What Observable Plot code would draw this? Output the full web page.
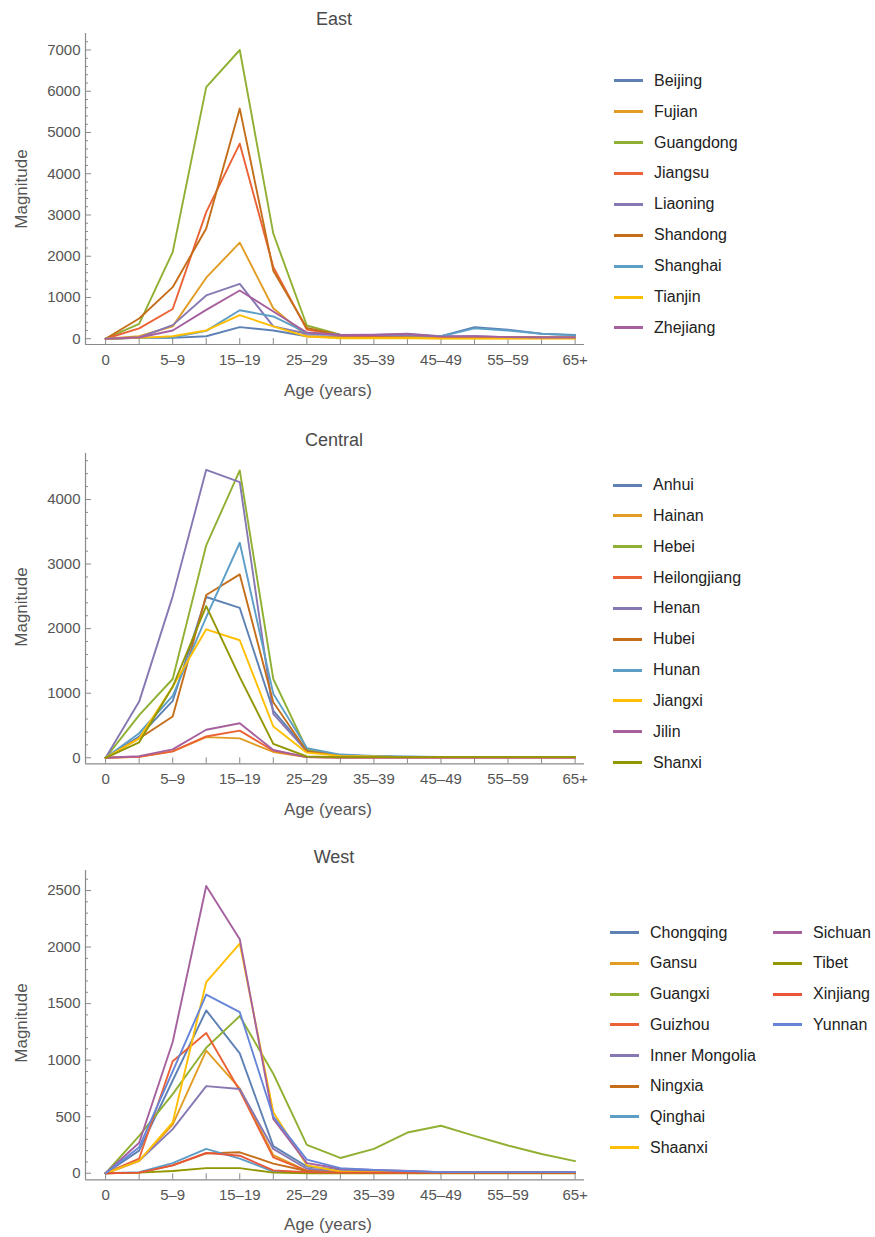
<!DOCTYPE html>
<html>
<head>
<meta charset="utf-8">
<script src="https://cdn.jsdelivr.net/npm/d3@7"></script>
<script src="https://cdn.jsdelivr.net/npm/@observablehq/plot@0.6"></script>
<style>
  html, body { margin: 0; padding: 0; background: #fff; }
  #root { position: relative; width: 875px; height: 1237px; overflow: hidden; font-family: "Liberation Sans", Arial, sans-serif; }
  .panel { position: absolute; left: 0; }
  .title { position: absolute; font-size: 18px; color: #4a4a4a; transform: translate(-50%, -50%); white-space: nowrap; }
  .xlab { position: absolute; font-size: 17px; color: #555; transform: translate(-50%, -50%); white-space: nowrap; }
  .ylab { position: absolute; font-size: 17px; color: #555; transform: translate(-50%, -50%) rotate(-90deg); white-space: nowrap; }
  .leg { position: absolute; height: 20px; line-height: 20px; font-size: 16px; color: #222; white-space: nowrap; }
  .leg .sw { position: absolute; left: 0; top: 8.5px; width: 29px; height: 3px; }
  .leg .tx { position: absolute; left: 40px; top: 0; }
</style>
</head>
<body>
<div id="root"></div>
<script>
// ---------- data ----------
const ages = ["0", "1–4", "5–9", "10–14", "15–19", "20–24", "25–29", "30–34", "35–39", "40–44", "45–49", "50–54", "55–59", "60–64", "65+"];
const palette = ["#5E81B5", "#E19C24", "#8FB032", "#EB6235", "#8778B3", "#C56E1A", "#5D9EC7", "#FFBF00", "#A5609D", "#929600", "#E95536", "#6685D9"];

const eastProvinces = ["Beijing", "Fujian", "Guangdong", "Jiangsu", "Liaoning", "Shandong", "Shanghai", "Tianjin", "Zhejiang"];
const eastValues = [
  [0, 20, 20, 60, 280, 200, 60, 50, 60, 80, 60, 280, 220, 120, 90],
  [0, 60, 300, 1480, 2330, 740, 60, 30, 20, 20, 10, 10, 10, 10, 10],
  [0, 360, 2100, 6100, 7000, 2550, 320, 100, 80, 70, 50, 40, 30, 30, 30],
  [0, 250, 720, 3070, 4730, 1740, 220, 80, 70, 80, 40, 30, 20, 20, 20],
  [0, 30, 330, 1050, 1330, 300, 120, 90, 100, 120, 60, 60, 40, 30, 30],
  [0, 490, 1250, 2670, 5580, 1650, 260, 90, 90, 100, 50, 40, 30, 30, 30],
  [0, 20, 30, 190, 690, 540, 140, 100, 90, 90, 60, 250, 200, 120, 80],
  [0, 20, 60, 200, 570, 300, 50, 10, 10, 10, 5, 5, 5, 5, 5],
  [0, 30, 200, 700, 1170, 660, 150, 90, 90, 110, 50, 60, 40, 30, 30]
];

const centralProvinces = ["Anhui", "Hainan", "Hebei", "Heilongjiang", "Henan", "Hubei", "Hunan", "Jiangxi", "Jilin", "Shanxi"];
const centralValues = [
  [0, 330, 880, 2490, 2320, 730, 120, 40, 20, 10, 10, 10, 10, 10, 10],
  [0, 15, 100, 320, 300, 90, 10, 5, 5, 5, 5, 5, 5, 5, 5],
  [0, 660, 1220, 3290, 4450, 1220, 130, 40, 20, 10, 10, 10, 10, 10, 10],
  [0, 15, 100, 330, 420, 110, 10, 5, 5, 5, 5, 5, 5, 5, 5],
  [0, 870, 2500, 4460, 4270, 680, 100, 40, 20, 10, 10, 10, 10, 10, 10],
  [0, 300, 640, 2520, 2840, 860, 100, 30, 20, 10, 10, 10, 10, 10, 10],
  [0, 380, 960, 2180, 3330, 990, 150, 50, 30, 20, 15, 15, 15, 15, 15],
  [0, 300, 1100, 1990, 1820, 485, 80, 30, 20, 10, 10, 10, 10, 10, 10],
  [0, 25, 130, 435, 535, 120, 10, 5, 5, 5, 5, 5, 5, 5, 5],
  [0, 240, 1100, 2350, 1250, 215, 20, 10, 10, 10, 10, 10, 10, 10, 10]
];

const westProvinces = ["Chongqing", "Gansu", "Guangxi", "Guizhou", "Inner Mongolia", "Ningxia", "Qinghai", "Shaanxi", "Sichuan", "Tibet", "Xinjiang", "Yunnan"];
const westValues = [
  [0, 200, 820, 1440, 1060, 240, 60, 30, 20, 15, 10, 5, 5, 5, 5],
  [0, 110, 430, 1085, 750, 160, 20, 10, 5, 5, 5, 5, 5, 5, 5],
  [0, 330, 700, 1110, 1390, 880, 250, 135, 215, 360, 420, 330, 245, 170, 107],
  [0, 130, 990, 1240, 730, 140, 20, 10, 5, 5, 5, 5, 5, 5, 5],
  [0, 110, 390, 770, 745, 215, 40, 15, 10, 5, 5, 5, 5, 5, 5],
  [0, 5, 70, 175, 185, 85, 20, 5, 5, 5, 5, 5, 5, 5, 5],
  [0, 10, 90, 215, 130, 15, 5, 5, 5, 5, 5, 5, 5, 5, 5],
  [0, 110, 450, 1690, 2030, 540, 70, 15, 10, 5, 5, 5, 5, 5, 5],
  [0, 270, 1160, 2540, 2070, 480, 90, 40, 30, 20, 10, 10, 10, 10, 10],
  [0, 5, 20, 45, 45, 5, 0, 0, 0, 0, 0, 0, 0, 0, 0],
  [0, 5, 70, 180, 155, 25, 10, 5, 5, 5, 5, 5, 5, 5, 5],
  [0, 230, 900, 1580, 1425, 500, 120, 45, 30, 20, 10, 10, 10, 10, 10]
];

const eastYTicks = [0, 1000, 2000, 3000, 4000, 5000, 6000, 7000];
const centralYTicks = [0, 1000, 2000, 3000, 4000];
const westYTicks = [0, 500, 1000, 1500, 2000, 2500];

// ---------- drawing ----------
const root = document.getElementById("root");
const FONT = '"Liberation Sans", Arial, sans-serif';

function panel(cfg) {
  const {top, height, marginTop, marginBottom, yDomain, majorTicks, minorStep, provinces, values, title, legend} = cfg;
  const width = 600, marginLeft = 85, marginRight = 16;
  const innerW = width - marginLeft - marginRight;
  const innerH = height - marginTop - marginBottom;
  const xDomain = [-0.6, 14.28];
  const rows = [];
  provinces.forEach((p, k) => values[k].forEach((v, i) => rows.push({p, i, v})));
  const minor = d3.range(0, yDomain[1], minorStep).filter(v => !majorTicks.includes(v));
  const axisColor = "#8a8a8a";

  const chart = Plot.plot({
    width, height, marginLeft, marginRight, marginTop, marginBottom,
    style: {fontFamily: FONT, fontSize: "15px", color: "#555", background: "transparent", overflow: "visible"},
    x: {domain: xDomain, label: null, axis: null},
    y: {domain: yDomain, label: null, axis: null},
    color: {domain: provinces, range: palette.slice(0, provinces.length)},
    marks: [
      Plot.ruleX([xDomain[0]], {stroke: axisColor, strokeWidth: 1.2}),
      Plot.ruleY([yDomain[0]], {stroke: axisColor, strokeWidth: 1.2}),
      Plot.tickX(d3.range(ages.length), {x: d => d, insetTop: innerH - 6, stroke: axisColor}),
      Plot.tickY(majorTicks, {y: d => d, insetRight: innerW - 6, stroke: axisColor}),
      Plot.tickY(minor, {y: d => d, insetRight: innerW - 3, stroke: axisColor}),
      Plot.axisY({ticks: majorTicks, tickSize: 0, tickPadding: 5, tickFormat: d => String(d), label: null, fill: "#555"}),
      Plot.axisX({ticks: d3.range(0, ages.length, 2), tickSize: 0, tickPadding: 10, tickFormat: i => ages[i], label: null, fill: "#555"}),
      Plot.line(rows, {x: "i", y: "v", z: "p", stroke: "p", strokeWidth: 1.9, strokeLinejoin: "round"})
    ]
  });
  const wrap = document.createElement("div");
  wrap.className = "panel";
  wrap.style.top = top + "px";
  wrap.appendChild(chart);
  root.appendChild(wrap);

  const t = document.createElement("div");
  t.className = "title"; t.textContent = title;
  t.style.left = cfg.titleX + "px"; t.style.top = cfg.titleY + "px";
  root.appendChild(t);

  const xl = document.createElement("div");
  xl.className = "xlab"; xl.textContent = "Age (years)";
  xl.style.left = "328px"; xl.style.top = cfg.xlabY + "px";
  root.appendChild(xl);

  const yl = document.createElement("div");
  yl.className = "ylab"; yl.textContent = "Magnitude";
  yl.style.left = "22px"; yl.style.top = cfg.ylabY + "px";
  root.appendChild(yl);

  provinces.forEach((p, k) => {
    const col = legend.cols && k >= legend.perCol ? 1 : 0;
    const row = col ? k - legend.perCol : k;
    const item = document.createElement("div");
    item.className = "leg";
    item.style.left = (col ? legend.x2 : legend.x) + "px";
    item.style.top = (legend.y + row * legend.step - 10) + "px";
    const sw = document.createElement("span");
    sw.className = "sw"; sw.style.background = palette[k];
    const tx = document.createElement("span");
    tx.className = "tx"; tx.textContent = p;
    item.appendChild(sw); item.appendChild(tx);
    root.appendChild(item);
  });
}

panel({
  top: 0, height: 400, marginTop: 33, marginBottom: 56, yDomain: [-140, 7400],
  majorTicks: eastYTicks, minorStep: 200, provinces: eastProvinces, values: eastValues,
  title: "East", titleX: 334, titleY: 19, xlabY: 391, ylabY: 189,
  legend: {x: 614, y: 80.7, step: 30.9}
});
panel({
  top: 420, height: 400, marginTop: 33, marginBottom: 56.7, yDomain: [-93, 4712],
  majorTicks: centralYTicks, minorStep: 200, provinces: centralProvinces, values: centralValues,
  title: "Central", titleX: 334, titleY: 440, xlabY: 810, ylabY: 607,
  legend: {x: 613, y: 485, step: 30.85}
});
panel({
  top: 837, height: 400, marginTop: 33, marginBottom: 57.7, yDomain: [-58, 2677],
  majorTicks: westYTicks, minorStep: 100, provinces: westProvinces, values: westValues,
  title: "West", titleX: 334, titleY: 857, xlabY: 1225, ylabY: 1023,
  legend: {x: 610, x2: 773, y: 932.7, step: 30.7, cols: 2, perCol: 8}
});
</script>
</body>
</html>
